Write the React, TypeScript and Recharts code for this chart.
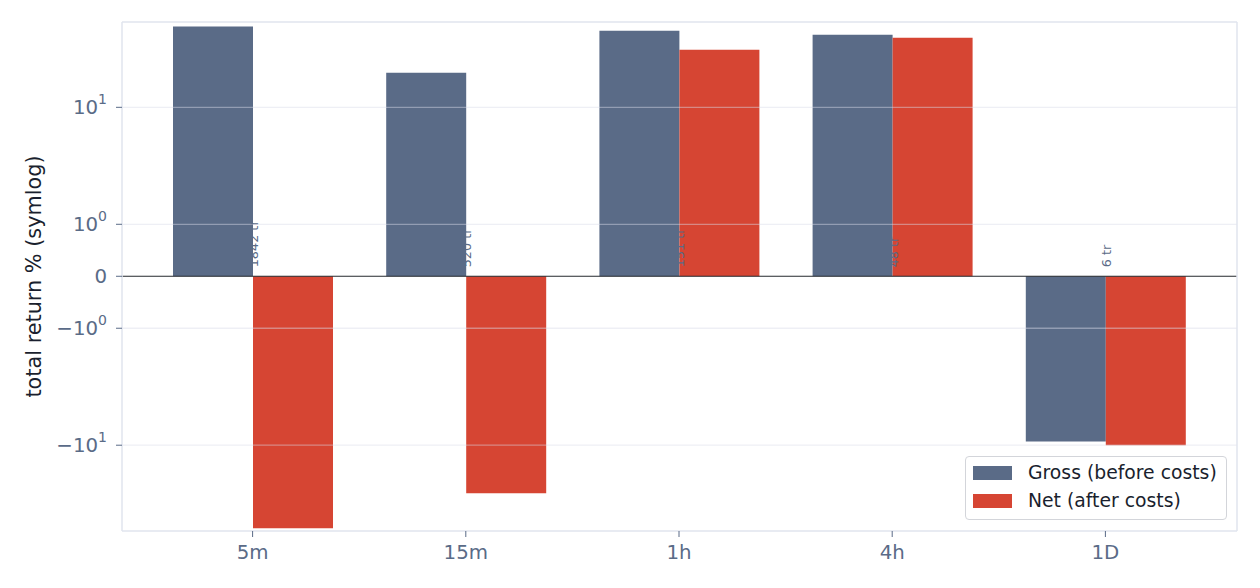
import React from 'react';
import { BarChart, Bar, XAxis, YAxis, ReferenceLine, ReferenceDot } from 'recharts';

const CATEGORIES = ['5m', '15m', '1h', '4h', '1D'];
const GROSS = [49.0, 19.8, 45.2, 41.8, -9.3];
const NET = [-51.2, -25.7, 31.1, 39.4, -10.0];
const TRADES = [1842, 520, 151, 48, 6];
const Y_TICKS = [-10, -1, 0, 1, 10];
const Y_TICK_BASE = ['\u221210', '\u221210', '0', '10', '10'];
const Y_TICK_EXP = ['1', '0', '', '0', '1'];
const GRID_VALUES = [-10, -1, 1, 10];
const SERIES_NAMES = ['Gross (before costs)', 'Net (after costs)'];
const COLORS = ['#5a6b87', '#d64533'];

const LINSCALE = 0.4 / (1 - 0.1);
const symlog = (v: number) => {
  const a = Math.abs(v);
  const t = a <= 1 ? a * LINSCALE : LINSCALE + Math.log10(a);
  return Math.sign(v) * t;
};

const data = CATEGORIES.map((c, i) => ({
  cat: c,
  gross: symlog(GROSS[i]),
  net: symlog(NET[i]),
  trades: TRADES[i],
}));

const FONT = '"DejaVu Sans", sans-serif';
const TICK_COLOR = '#5a6b87';
const FRAME = '#e1e5ee';
const DOMAIN: [number, number] = [-2.178, 2.174];

const YTick = (props: any) => {
  const { x, y, index } = props;
  const exp = Y_TICK_EXP[index];
  return (
    <text x={x - 9} y={y} textAnchor="end" dominantBaseline="central" fill={TICK_COLOR} fontSize={19.8} fontFamily={FONT}>
      {Y_TICK_BASE[index]}
      {exp ? (
        <tspan fontSize={14} dy={-8}>{exp}</tspan>
      ) : null}
    </text>
  );
};

const XTick = (props: any) => {
  const { x, payload } = props;
  return (
    <text x={x} y={552} textAnchor="middle" dominantBaseline="central" fill={TICK_COLOR} fontSize={19.8} fontFamily={FONT}>
      {payload.value}
    </text>
  );
};

const YLabel = (props: any) => {
  const vb = props.viewBox || { x: 0, y: 22, width: 122, height: 509 };
  const cy = vb.y + vb.height / 2;
  return (
    <text x={34} y={cy} transform={`rotate(-90, 34, ${cy})`} textAnchor="middle" dominantBaseline="central" fill="#1a1f2e" fontSize={20.8} fontFamily={FONT}>
      total return % (symlog)
    </text>
  );
};

export default function App() {
  return (
    <div style={{ position: 'absolute', left: 0, top: 0, width: 1260, height: 588, background: '#fff', fontFamily: FONT }}>
      <BarChart
        width={1260}
        height={588}
        data={data}
        margin={{ top: 22, right: 22, left: 0, bottom: 0 }}
        barGap={0}
        barSize={80}
      >
        <XAxis
          dataKey="cat"
          type="category"
          padding={{ left: 24, right: 25 }}
          height={57}
          axisLine={{ stroke: FRAME, strokeWidth: 1.5 }}
          tickLine={{ stroke: TICK_COLOR }}
          tickSize={6}
          tick={<XTick />}
        />
        <YAxis
          type="number"
          domain={DOMAIN}
          allowDataOverflow
          ticks={Y_TICKS.map(symlog)}
          width={122}
          axisLine={{ stroke: FRAME, strokeWidth: 1.5 }}
          tickLine={{ stroke: TICK_COLOR }}
          tickSize={6}
          tickMargin={0}
          tick={<YTick />}
          interval={0}
          label={<YLabel />}
        />
        <YAxis
          yAxisId="right"
          orientation="right"
          type="number"
          domain={DOMAIN}
          allowDataOverflow
          width={1}
          tick={false}
          tickLine={false}
          axisLine={{ stroke: FRAME, strokeWidth: 1.5 }}
        />
        <ReferenceLine y={DOMAIN[1]} stroke={FRAME} strokeWidth={1.5} />
        <Bar dataKey="gross" name={SERIES_NAMES[0]} fill={COLORS[0]} isAnimationActive={false} />
        <Bar dataKey="net" name={SERIES_NAMES[1]} fill={COLORS[1]} isAnimationActive={false} />
        {GRID_VALUES.map((v) => (
          <ReferenceLine key={v} y={symlog(v)} stroke="rgb(217,219,232)" strokeOpacity={0.45} strokeWidth={1.3} />
        ))}
        <ReferenceLine y={0} stroke="#25282e" strokeWidth={1.2} />
        {data.map((d) => (
          <ReferenceDot
            key={d.cat}
            x={d.cat}
            y={0}
            r={0}
            isFront
            shape={(p: any) => (
              <text
                x={p.cx + 1}
                y={p.cy - 9}
                transform={`rotate(-90, ${p.cx + 1}, ${p.cy - 9})`}
                textAnchor="start"
                dominantBaseline="central"
                fill={TICK_COLOR}
                fontSize={12.8}
                fontFamily={FONT}
              >
                {`${d.trades} tr`}
              </text>
            )}
          />
        ))}
      </BarChart>
      <div
        style={{
          position: 'absolute',
          left: 965,
          top: 456,
          width: 262,
          height: 64,
          boxSizing: 'border-box',
          border: '1.5px solid #d3d5da',
          borderRadius: 4,
          background: '#fff',
        }}
      >
        {SERIES_NAMES.map((name, i) => (
          <div key={name} style={{ position: 'absolute', left: 7, top: 8 + i * 28, height: 15, display: 'flex', alignItems: 'center' }}>
            <div style={{ width: 39, height: 14, background: COLORS[i] }} />
            <span style={{ marginLeft: 16, fontSize: 18.8, color: '#1a1f2e', fontFamily: FONT, whiteSpace: 'nowrap', lineHeight: '15px' }}>{name}</span>
          </div>
        ))}
      </div>
    </div>
  );
}
